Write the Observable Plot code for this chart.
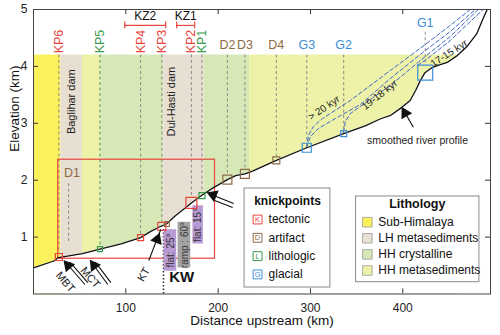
<!DOCTYPE html>
<html><head><meta charset="utf-8">
<script src="https://cdn.jsdelivr.net/npm/d3@7"></script>
<script src="https://cdn.jsdelivr.net/npm/@observablehq/plot@0.6"></script>
<style>body{margin:0;background:#fff}#chart{width:500px;height:335px}</style>
</head><body><div id="chart"></div>
<script>
const F = "'Liberation Sans', Arial, Helvetica, sans-serif";

// smoothed river profile (distance km, elevation km)
const profDist = [0, 22, 27, 53, 72, 95, 116, 127, 138, 144, 154, 165, 171, 182, 195, 210, 219, 229, 236, 263, 296, 336, 360, 376, 387, 399, 408, 414, 419, 424, 430, 435, 448, 459, 469, 480, 487, 492];
const profElev = [0.46, 0.58, 0.64, 0.71, 0.79, 0.88, 0.99, 1.10, 1.19, 1.23, 1.38, 1.52, 1.60, 1.73, 1.87, 2.01, 2.08, 2.11, 2.15, 2.35, 2.57, 2.82, 2.96, 3.08, 3.14, 3.28, 3.40, 3.58, 3.75, 3.89, 3.96, 4.00, 4.07, 4.19, 4.34, 4.57, 4.84, 5.02];

// lithology bands
const bandStart = [0, 29.7, 53, 73, 141, 185, 234];
const bandEnd   = [29.7, 53, 73, 141, 185, 234, 460];
const bandUnit  = ["Sub-Himalaya", "LH metasediments", "HH metasediments", "HH crystalline", "LH metasediments", "HH crystalline", "HH metasediments"];
const bandTop = 4.2;

// knickpoints
const kpName = ["KP6", "KP5", "KP4", "KP3", "KP2", "KP1", "D2", "D3", "D4", "G3", "G2", "G1"];
const kpType = ["tectonic", "lithologic", "tectonic", "tectonic", "tectonic", "lithologic", "artifact", "artifact", "artifact", "glacial", "glacial", "glacial"];
const kpDist = [27.5, 72, 116, 139, 171, 182.5, 210, 229, 263, 296, 336, 424.3];
const kpElev = [0.65, 0.79, 0.99, 1.19, 1.60, 1.73, 2.01, 2.11, 2.35, 2.57, 2.82, 3.89];
const extraArtifactDist = [144.5];
const extraArtifactElev = [1.23];

// knickzones
const kzName = ["KZ2", "KZ1"];
const kzStart = [98.9, 155.1];
const kzEnd = [143.2, 174.6];

// glacial paleo-profiles
const glacA_d = [295.7, 297.8, 303.2, 313.0, 343.2, 386.5, 424.3, 451.4, 473.0];
const glacA_e = [2.575, 2.786, 2.944, 3.084, 3.401, 3.928, 4.385, 4.719, 5.0];
const glacB_d = [295.7, 300.0, 308.6, 327.0, 354.1, 386.5, 424.3, 451.4, 478.4];
const glacB_e = [2.575, 2.768, 2.909, 3.084, 3.330, 3.787, 4.279, 4.613, 5.0];
const glacC_d = [335.7, 337.8, 343.2, 354.1, 386.5, 424.3, 451.4, 481.6];
const glacC_e = [2.838, 3.032, 3.172, 3.295, 3.664, 4.174, 4.525, 5.0];
const glacD_d = [415.7, 424.3, 451.4, 487.0];
const glacD_e = [4.016, 4.104, 4.455, 5.0];

const xTicks = [100, 200, 300, 400];
const yTicks = [1, 2, 3, 4, 5];
const litLegend = ["Sub-Himalaya", "LH metasediments", "HH crystalline", "HH metasediments"];
const kpLegend = ["tectonic", "artifact", "lithologic", "glacial"];
const kpLetters = ["K", "D", "L", "G"];

// styles
const unitColor = {"Sub-Himalaya": "#fbf15c", "LH metasediments": "#e7dfd2", "HH crystalline": "#d6e8b6", "HH metasediments": "#eef2a8"};
const red = "#e8453c", green = "#3a9a4c", brown = "#8c6a46", blue = "#3b8ed6";
const typeColor = {tectonic: red, artifact: brown, lithologic: green, glacial: blue};
const kpBoxPx = {KP6: 7, KP5: 5, KP4: 6, KP3: 8, KP2: 11, KP1: 6, D2: 9, D3: 9, D4: 7, G3: 9, G2: 6, G1: 15};
const pxPerKmY = 56.9;

const profile = profDist.map((d, i) => ({x: d, y: profElev[i]}));
const bands = bandStart.map((s, i) => ({x1: s, x2: bandEnd[i], unit: bandUnit[i]}));
const kps = kpName.map((n, i) => ({name: n, type: kpType[i], x: kpDist[i], y: kpElev[i]}));
const mk = (ds, es) => ds.map((d, i) => ({x: d, y: es[i]}));
const glac = [mk(glacA_d, glacA_e), mk(glacB_d, glacB_e), mk(glacC_d, glacC_e), mk(glacD_d, glacD_e)];

const vertLabels = kps.filter(d => d.name.startsWith("KP"));
const horLabels = kps.filter(d => !d.name.startsWith("KP") && d.name !== "G1");
const g1 = kps.filter(d => d.name === "G1");

// annotation arrows (shafts) and filled heads
const shafts = [
  {x1: 55.7, y1: 0.167, x2: 34.1, y2: 0.571},
  {x1: 80.5, y1: 0.167, x2: 62.2, y2: 0.571},
  {x1: 124.9, y1: 0.589, x2: 137.8, y2: 1.134},
  {x1: 216.8, y1: 1.59, x2: 189.7, y2: 1.766},
  {x1: 411.4, y1: 2.93, x2: 400.5, y2: 3.24},
  {x1: 58.9, y1: 0.20, x2: 39.5, y2: 0.56},
  {x1: 83.8, y1: 0.20, x2: 67.0, y2: 0.56},
  {x1: 215.7, y1: 1.52, x2: 196.2, y2: 1.643}
];
const heads = [
  {x: 37.5, y: 0.50, a: -41},
  {x: 65.5, y: 0.50, a: -36},
  {x: 134.0, y: 0.96, a: 21},
  {x: 194.5, y: 1.74, a: -68},
  {x: 402.5, y: 3.18, a: -29}
];
const purple = [
  {x1: 141.4, x2: 155.1, y1: 0.40, y2: 1.13, fill: "#b89ad4", t: "flat: 25°"},
  {x1: 156.6, x2: 170.3, y1: 0.46, y2: 1.26, fill: "#a3a3a3", t: "ramp : 60°"},
  {x1: 172.7, x2: 184.0, y1: 0.88, y2: 1.55, fill: "#b89ad4", t: "flat: 15°"}
];

const chart = Plot.plot({
  width: 500, height: 335,
  marginLeft: 33, marginRight: 10, marginTop: 9, marginBottom: 41.5,
  style: {fontFamily: F, fontSize: "12px", color: "#222", background: "#fff"},
  x: {domain: [0, 495]},
  y: {domain: [0, 5]},
  r: {type: "identity"},
  marks: [
    Plot.rect(bands, {x1: "x1", x2: "x2", y1: 0, y2: bandTop, fill: d => unitColor[d.unit]}),
    Plot.areaY(profile, {x: "x", y: "y", fill: "white", clip: true}),
    Plot.ruleX(kps, {x: "x", y1: d => d.name === "G1" ? 4.6 : bandTop, y2: d => d.y + kpBoxPx[d.name] / 2 / pxPerKmY,
      stroke: d => d.name === "KP5" ? "#4f8f55" : "#8a8a8a", strokeDasharray: "3,2.5", strokeWidth: 1}),
    Plot.ruleX([38], {x: d => d, y1: 1.94, y2: 0.89, stroke: "#8a8a8a", strokeDasharray: "3,2.5"}),
    Plot.rect([0], {x1: 26.8, x2: 196.6, y1: 0.62, y2: 2.36, fill: "none", stroke: red, strokeWidth: 1.2}),
    // knickzone brackets
    Plot.ruleY(kzName, {x1: (d, i) => kzStart[i], x2: (d, i) => kzEnd[i], y: 4.72, stroke: red, strokeWidth: 1.2}),
    Plot.ruleX(kzStart.concat(kzEnd), {x: d => d, y1: 4.66, y2: 4.78, stroke: red, strokeWidth: 1.2}),
    Plot.text(kzName, {x: (d, i) => (kzStart[i] + kzEnd[i]) / 2, y: 4.88, text: d => d, fill: "#111", fontSize: 12}),
    // glacial lines
    ...glac.map(g => Plot.line(g, {x: "x", y: "y", stroke: "#3f67c8", strokeDasharray: "4,2.5", strokeWidth: 1, clip: true})),
    // KW dotted line
    Plot.ruleX([140.8], {x: d => d, y1: 0, y2: 1.15, stroke: "#333", strokeWidth: 1.6, strokeDasharray: "1.5,2"}),
    // profile
    Plot.line(profile, {x: "x", y: "y", stroke: "#111", strokeWidth: 1.3, clip: true}),
    // purple boxes
    Plot.rect(purple, {x1: "x1", x2: "x2", y1: "y1", y2: "y2", fill: "fill"}),
    Plot.text(purple, {x: d => (d.x1 + d.x2) / 2, y: d => (d.y1 + d.y2) / 2, text: "t", rotate: -90, fontSize: 10, fill: "#333"}),
    // knickpoint boxes
    Plot.dot(kps, {x: "x", y: "y", symbol: "square", r: d => kpBoxPx[d.name] / 1.772, stroke: d => typeColor[d.type], strokeWidth: 1.2, fill: "none"}),
    Plot.dot(extraArtifactDist, {x: d => d, y: (d, i) => extraArtifactElev[i], symbol: "square", r: 2.8, stroke: brown, strokeWidth: 1.1, fill: "none"}),
    // labels
    Plot.text(vertLabels, {x: "x", y: bandTop + 0.03, text: "name", rotate: -90, textAnchor: "start", lineAnchor: "middle", fill: d => typeColor[d.type], fontSize: 12.5}),
    Plot.text(horLabels, {x: "x", y: 4.37, text: "name", fill: d => typeColor[d.type], fontSize: 12.5}),
    Plot.text(g1, {x: "x", y: 4.77, text: "name", fill: blue, fontSize: 12.5}),
    Plot.text(["D1"], {x: 41.6, y: 2.12, text: d => d, fill: brown, fontSize: 12.5}),
    Plot.text(["Baglihar dam"], {x: 41.3, y: 3.38, text: d => d, rotate: -90, fontSize: 11, fill: "#222"}),
    Plot.text(["Dul-Hasti dam"], {x: 149.7, y: 3.38, text: d => d, rotate: -90, fontSize: 11, fill: "#222"}),
    Plot.text(["KW"], {x: 160.5, y: 0.29, text: d => d, fontSize: 15, fontWeight: "bold", fill: "#111"}),
    Plot.text(["> 20 kyr"], {x: 314.6, y: 3.27, text: d => d, rotate: -34, fontSize: 10, fill: "#222"}),
    Plot.text(["19-18 kyr"], {x: 374.9, y: 3.50, text: d => d, rotate: -38, fontSize: 10, fill: "#222"}),
    Plot.text(["17-15 kyr"], {x: 450, y: 4.23, text: d => d, rotate: -33, fontSize: 10, fill: "#222"}),
    Plot.text(["smoothed river profile"], {x: 416, y: 2.70, text: d => d, fontSize: 10.5, fill: "#222"}),
    Plot.text(["MBT"], {x: 34.5, y: 0.21, text: d => d, rotate: 50, fontSize: 11, fill: "#222"}),
    Plot.text(["MCT"], {x: 61.5, y: 0.29, text: d => d, rotate: 50, fontSize: 11, fill: "#222"}),
    Plot.text(["KT"], {x: 119.5, y: 0.343, text: d => d, rotate: -60, fontSize: 11, fill: "#222"}),
    // arrows
    Plot.link(shafts, {x1: "x1", y1: "y1", x2: "x2", y2: "y2", stroke: "#111", strokeWidth: 1.1}),
    Plot.dot(heads, {x: "x", y: "y", symbol: "triangle", r: 3.6, rotate: "a", fill: "#111", stroke: "#111"}),
    // knickpoints legend
    Plot.rect([0], {x1: 228.6, x2: 321.6, y1: 0.114, y2: 1.854, fill: "white", stroke: "#8a8a8a"}),
    Plot.text(["knickpoints"], {x: 275.1, y: 1.626, text: d => d, fontWeight: "bold", fontSize: 12, fill: "#111"}),
    Plot.dot(kpLegend, {x: 242.7, y: (d, i) => 1.309 - i * 0.3216, symbol: "square", r: 5, stroke: d => typeColor[d], strokeWidth: 1, fill: "white"}),
    Plot.text(kpLegend, {x: 242.7, y: (d, i) => 1.309 - i * 0.3216, text: (d, i) => kpLetters[i], fill: d => typeColor[d], fontSize: 7.5}),
    Plot.text(kpLegend, {x: 254.6, y: (d, i) => 1.309 - i * 0.3216, text: d => d, textAnchor: "start", fontSize: 12, fill: "#111"}),
    // lithology legend
    Plot.rect([0], {x1: 349.4, x2: 483.0, y1: 0.207, y2: 1.714, fill: "white", stroke: "#8a8a8a"}),
    Plot.text(["Lithology"], {x: 415.7, y: 1.573, text: d => d, fontWeight: "bold", fontSize: 12.5, fill: "#111"}),
    Plot.dot(litLegend, {x: 361.6, y: (d, i) => 1.262 - i * 0.283, symbol: "square", r: 5.4, fill: d => unitColor[d], stroke: "#999", strokeWidth: 0.8}),
    Plot.text(litLegend, {x: 373.5, y: (d, i) => 1.262 - i * 0.283, text: d => d, textAnchor: "start", fontSize: 12, fill: "#111"}),
    // ticks (inward) and axes
    Plot.ruleX(xTicks, {x: d => d, y1: 0, y2: 0.09, stroke: "#333"}),
    Plot.ruleX(xTicks, {x: d => d, y1: 4.91, y2: 5, stroke: "#333"}),
    Plot.ruleY(yTicks, {y: d => d, x1: 0, x2: 5.4, stroke: "#333"}),
    Plot.ruleY(yTicks, {y: d => d, x1: 489.6, x2: 495, stroke: "#333"}),
    Plot.axisX({ticks: xTicks, tickSize: 0, tickPadding: 9, label: null, fontSize: 12, tickFormat: d => String(d)}),
    Plot.axisY({ticks: yTicks, tickSize: 0, tickPadding: 6, label: null, fontSize: 12, tickFormat: d => String(d)}),
    Plot.text(["Elevation (km)"], {frameAnchor: "left", rotate: -90, dx: -19, text: d => d, fontSize: 13.5, fill: "#111"}),
    Plot.text(["Distance upstream (km)"], {frameAnchor: "bottom", dy: 31, text: d => d, fontSize: 13.5, fill: "#111"}),
    Plot.frame({stroke: "#444"})
  ]
});
document.getElementById("chart").appendChild(chart);
</script>
</body></html>
